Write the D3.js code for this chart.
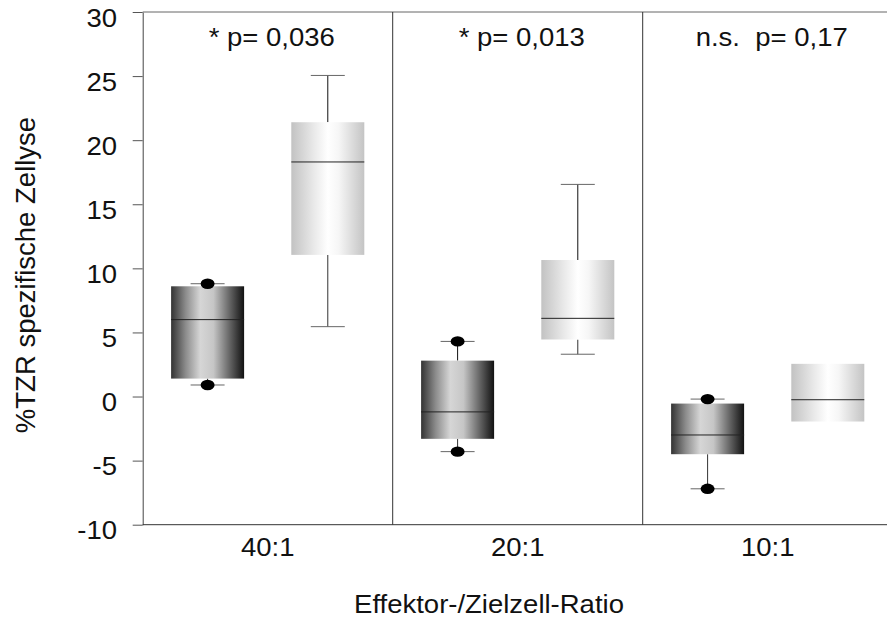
<!DOCTYPE html>
<html>
<head>
<meta charset="utf-8">
<script src="https://cdn.jsdelivr.net/npm/d3@7"></script>
<style>
  body { margin: 0; background: #fff; }
  svg { display: block; font-family: Arial, "Liberation Sans", sans-serif; }
</style>
</head>
<body>
<svg></svg>
<script>
// Data
const groups = ['40:1', '20:1', '10:1']
const pLabels = ['* p= 0,036', '* p= 0,013', 'n.s.  p= 0,17']
const yTicks = [-10, -5, 0, 5, 10, 15, 20, 25, 30]

// dark boxes (circles mark min / max)
const darkMin = [0.9, -4.3, -7.2]
const darkQ1 = [1.4, -3.3, -4.5]
const darkMedian = [6.0, -1.2, -3.0]
const darkQ3 = [8.6, 2.8, -0.55]
const darkMax = [8.8, 4.3, -0.2]

// light boxes (whiskers with caps, none for 10:1)
const lightMin = [5.45, 3.3, null]
const lightQ1 = [11.05, 4.45, -1.95]
const lightMedian = [18.3, 6.1, -0.25]
const lightQ3 = [21.4, 10.65, 2.55]
const lightMax = [25.05, 16.55, null]

// Define variables
const width = 887
const height = 618
const plotLeft = 142.7
const plotTop = 12
const plotBottom = 524.7
const boxWidth = 73
const capWidth = 34

const svg = d3.select('svg')
                .attr('width', width)
                .attr('height', height)
                .style('overflow', 'hidden')

let xScale; let yScale; let seriesScale

let buildScales = () => {
    xScale = d3.scaleBand()
                .domain(groups)
                .range([plotLeft, plotLeft + 3 * 250])
    yScale = d3.scaleLinear()
                .domain([-10, 30])
                .range([plotBottom, plotTop])
    seriesScale = d3.scalePoint()
                .domain(['dark', 'light'])
                .range([0, xScale.bandwidth()])
                .padding(0.54)
}

let buildGradients = () => {
    const defs = svg.append('defs')
    const dark = defs.append('linearGradient').attr('id', 'darkGrad')
    const darkStops = [[0, '#333333'], [0.2, '#8c8c8c'], [0.4, '#d6d6d6'], [0.58, '#c6c6c6'], [0.8, '#666666'], [1, '#111111']]
    darkStops.forEach(s => dark.append('stop').attr('offset', s[0]).attr('stop-color', s[1]))
    const light = defs.append('linearGradient').attr('id', 'lightGrad')
    const lightStops = [[0, '#c2c2c2'], [0.3, '#e8e8e8'], [0.5, '#ffffff'], [0.65, '#f6f6f6'], [1, '#c4c4c4']]
    lightStops.forEach(s => light.append('stop').attr('offset', s[0]).attr('stop-color', s[1]))
}

// Build Axes
let buildAxes = () => {
    const yAxis = d3.axisLeft(yScale)
                    .tickValues(yTicks)
                    .tickSize(10)
                    .tickSizeOuter(0)
                    .tickFormat(d => String(d))
    const gy = svg.append('g')
        .attr('transform', 'translate(' + plotLeft + ',0)')
        .call(yAxis)
    gy.select('.domain').attr('stroke', '#444')
    gy.selectAll('.tick line').attr('stroke', '#555')
    gy.selectAll('.tick text')
        .attr('x', -23.4)
        .attr('dy', '0.56em')
        .attr('transform', 'scale(1.1,1)')
        .style('font-size', '25px')
        .attr('fill', '#111')

    // bottom line and labels
    svg.append('line')
        .attr('x1', plotLeft).attr('x2', width)
        .attr('y1', plotBottom).attr('y2', plotBottom)
        .attr('stroke', '#333')
    const xAxis = d3.axisBottom(xScale).tickSize(0)
    const gx = svg.append('g')
        .attr('transform', 'translate(0,' + plotBottom + ')')
        .call(xAxis)
    gx.select('.domain').remove()
    gx.selectAll('.tick text')
        .attr('y', 31.3)
        .attr('dy', 0)
        .attr('transform', 'scale(1.1,1)')
        .style('font-size', '25px')
        .attr('fill', '#111')

    // top border
    svg.append('line')
        .attr('x1', plotLeft).attr('x2', width)
        .attr('y1', plotTop).attr('y2', plotTop)
        .attr('stroke', '#666')

    // separators between groups
    svg.selectAll('.sep')
        .data(groups.slice(0, 2))
        .enter()
        .append('line')
        .attr('class', 'sep')
        .attr('x1', d => xScale(d) + xScale.bandwidth())
        .attr('x2', d => xScale(d) + xScale.bandwidth())
        .attr('y1', plotTop).attr('y2', plotBottom)
        .attr('stroke', '#333')

    // titles
    svg.append('text')
        .attr('transform', 'translate(35,275) rotate(-90)')
        .attr('text-anchor', 'middle')
        .style('font-size', '27.5px')
        .attr('fill', '#111')
        .text('%TZR spezifische Zellyse')
    svg.append('text')
        .attr('transform', 'translate(489,613) scale(1.1,1)')
        .attr('text-anchor', 'middle')
        .style('font-size', '25px')
        .attr('fill', '#111')
        .text('Effektor-/Zielzell-Ratio')

    svg.selectAll('.plabel')
        .data(groups)
        .enter()
        .append('text')
        .attr('class', 'plabel')
        .attr('transform', d => 'translate(' + (xScale(d) + xScale.bandwidth() / 2 + 4) + ',46) scale(1.1,1)')
        .attr('text-anchor', 'middle')
        .style('font-size', '25px')
        .style('white-space', 'pre')
        .attr('fill', '#111')
        .text((d, i) => pLabels[i])
}

// Draw boxes
let drawBoxes = () => {
    const dark = groups.map((g, i) => ({g: g, min: darkMin[i], q1: darkQ1[i], med: darkMedian[i], q3: darkQ3[i], max: darkMax[i]}))
    const light = groups.map((g, i) => ({g: g, min: lightMin[i], q1: lightQ1[i], med: lightMedian[i], q3: lightQ3[i], max: lightMax[i]}))
    const cx = (d, s) => xScale(d.g) + seriesScale(s)

    let drawSeries = (data, s, fill) => {
        const g = svg.append('g')
        // whisker stems
        g.selectAll('.stemHi')
            .data(data.filter(d => d.max != null))
            .enter()
            .append('line')
            .attr('x1', d => cx(d, s)).attr('x2', d => cx(d, s))
            .attr('y1', d => yScale(d.q3)).attr('y2', d => yScale(d.max))
            .attr('stroke', '#111')
        g.selectAll('.stemLo')
            .data(data.filter(d => d.min != null))
            .enter()
            .append('line')
            .attr('x1', d => cx(d, s)).attr('x2', d => cx(d, s))
            .attr('y1', d => yScale(d.q1)).attr('y2', d => yScale(d.min))
            .attr('stroke', '#333')
        // caps
        const caps = []
        data.forEach(d => {
            if (d.max != null) caps.push({d: d, v: d.max})
            if (d.min != null) caps.push({d: d, v: d.min})
        })
        g.selectAll('.cap')
            .data(caps)
            .enter()
            .append('line')
            .attr('x1', c => cx(c.d, s) - capWidth / 2).attr('x2', c => cx(c.d, s) + capWidth / 2)
            .attr('y1', c => yScale(c.v)).attr('y2', c => yScale(c.v))
            .attr('stroke', '#666')
        // boxes
        g.selectAll('rect')
            .data(data)
            .enter()
            .append('rect')
            .attr('x', d => cx(d, s) - boxWidth / 2)
            .attr('width', boxWidth)
            .attr('y', d => yScale(d.q3))
            .attr('height', d => yScale(d.q1) - yScale(d.q3))
            .attr('fill', fill)
        // medians
        g.selectAll('.median')
            .data(data)
            .enter()
            .append('line')
            .attr('x1', d => cx(d, s) - boxWidth / 2).attr('x2', d => cx(d, s) + boxWidth / 2)
            .attr('y1', d => yScale(d.med)).attr('y2', d => yScale(d.med))
            .attr('stroke', '#222')
        return caps
    }

    drawSeries(light, 'light', 'url(#lightGrad)')
    const darkCaps = drawSeries(dark, 'dark', 'url(#darkGrad)')

    // dots at the dark whisker ends
    svg.selectAll('.dot')
        .data(darkCaps)
        .enter()
        .append('ellipse')
        .attr('class', 'dot')
        .attr('cx', c => cx(c.d, 'dark'))
        .attr('cy', c => yScale(c.v))
        .attr('rx', 7)
        .attr('ry', 5.2)
        .attr('fill', '#000')
}

buildScales()
buildGradients()
drawBoxes()
buildAxes()
</script>
</body>
</html>
